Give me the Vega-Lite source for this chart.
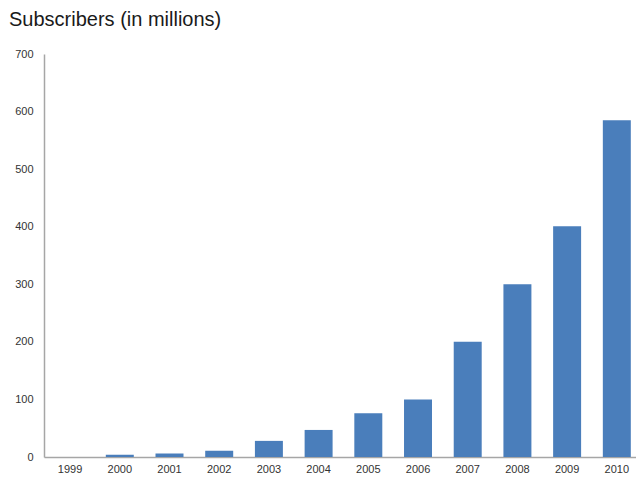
{
  "$schema": "https://vega.github.io/schema/vega-lite/v6.json",
  "width": 592,
  "height": 403,
  "autosize": "none",
  "padding": {"left": 44, "top": 54, "right": 0, "bottom": 24},
  "background": "white",
  "title": {
    "text": "Subscribers (in millions)",
    "anchor": "start",
    "frame": "group",
    "dx": -35,
    "offset": 18,
    "fontSize": 20,
    "fontWeight": "normal",
    "font": "Liberation Sans",
    "color": "#1a1a1a"
  },
  "data": {
    "values": [
      {"year": "1999", "subs": 0},
      {"year": "2000", "subs": 4},
      {"year": "2001", "subs": 6},
      {"year": "2002", "subs": 11},
      {"year": "2003", "subs": 28},
      {"year": "2004", "subs": 47},
      {"year": "2005", "subs": 76},
      {"year": "2006", "subs": 100},
      {"year": "2007", "subs": 200},
      {"year": "2008", "subs": 300},
      {"year": "2009", "subs": 401},
      {"year": "2010", "subs": 585}
    ]
  },
  "mark": {"type": "bar", "color": "#4a7ebb"},
  "encoding": {
    "x": {
      "field": "year",
      "type": "ordinal",
      "scale": {"paddingInner": 0.437, "paddingOuter": 0.174, "align": 0.7},
      "axis": {
        "title": null,
        "labelAngle": 0,
        "ticks": false,
        "domainColor": "#a6a6a6",
        "domainWidth": 1.5,
        "labelPadding": 6,
        "labelFont": "Liberation Sans",
        "labelFontSize": 11,
        "labelColor": "#333333"
      }
    },
    "y": {
      "field": "subs",
      "type": "quantitative",
      "scale": {"domain": [0, 700]},
      "axis": {
        "title": null,
        "values": [0, 100, 200, 300, 400, 500, 600, 700],
        "grid": false,
        "ticks": false,
        "domainColor": "#a6a6a6",
        "domainWidth": 1.5,
        "labelPadding": 11,
        "labelFont": "Liberation Sans",
        "labelFontSize": 11,
        "labelColor": "#333333"
      }
    }
  },
  "config": {"view": {"stroke": null}}
}
